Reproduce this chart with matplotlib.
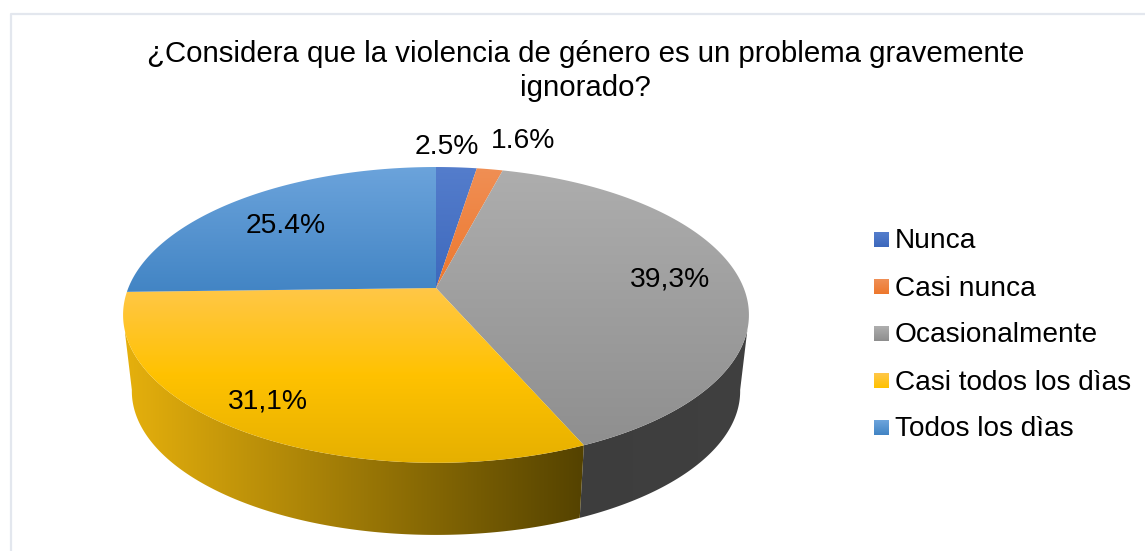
import numpy as np
import matplotlib
matplotlib.use("Agg")
import matplotlib.pyplot as plt
from matplotlib.colors import LinearSegmentedColormap
from matplotlib.patches import Polygon

plt.rcParams['font.family'] = ['Liberation Sans', 'DejaVu Sans']

title = "¿Considera que la violencia de género es un problema gravemente\nignorado?"
categories = ["Nunca", "Casi nunca", "Ocasionalmente", "Casi todos los dìas", "Todos los dìas"]
values = [2.5, 1.6, 39.3, 31.1, 25.4]
value_labels = ["2.5%", "1.6%", "39,3%", "31,1%", "25.4%"]

# colour ramps of the top face, from back to front of the pie
top_colors = [
    [(0.33, 0.49, 0.80), (0.24, 0.41, 0.74)],
    [(0.94, 0.56, 0.33), (0.93, 0.47, 0.18)],
    [(0.68, 0.68, 0.68), (0.56, 0.56, 0.56)],
    [(1.00, 0.78, 0.28), (1.00, 0.76, 0.00), (0.90, 0.69, 0.00)],
    [(0.42, 0.64, 0.86), (0.26, 0.52, 0.77)],
]
side_colors = [
    [(0.20, 0.33, 0.60), (0.15, 0.25, 0.45)],
    [(0.70, 0.35, 0.13), (0.55, 0.27, 0.10)],
    [(0.24, 0.24, 0.24), (0.25, 0.25, 0.25)],
    [(0.90, 0.69, 0.05), (0.33, 0.26, 0.00)],
    [(0.20, 0.40, 0.60), (0.20, 0.40, 0.60)],
]
legend_colors = [c[:2] for c in top_colors]
label_pos = [(447, 147), (523, 141), (670, 280), (268, 401), (286, 226)]


# perspective projection of the unit disc on the image
def project(theta, cy, scale, k=0.182, rx=307.7, ry=143):
    u = np.sin(theta)
    v = np.cos(theta)
    d = 1 + k * v
    return np.column_stack((436 + scale * rx * u / d, cy - scale * ry * v / d))


def fill_gradient(ax, pts, colors, horizontal, zorder):
    cmap = LinearSegmentedColormap.from_list("ramp", colors)
    x0, x1 = pts[:, 0].min(), pts[:, 0].max()
    y0, y1 = pts[:, 1].min(), pts[:, 1].max()
    grad = np.linspace(0, 1, 256)
    grad = grad.reshape(1, -1) if horizontal else grad.reshape(-1, 1)
    im = ax.imshow(grad, cmap=cmap, extent=(x0, x1, y1, y0), aspect="auto",
                   zorder=zorder, interpolation="bilinear")
    im.set_clip_path(Polygon(pts, closed=True, transform=ax.transData))


fig = plt.figure(figsize=(11.45, 5.51), dpi=100)
ax = fig.add_axes([0, 0, 1, 1])

edges = np.radians(np.cumsum([0] + values) / sum(values) * 360)

# only the front of the rim is visible, the limits differ a bit between top and bottom rim
top_lim = np.radians([106, 254])
bottom_lim = np.radians([100, 260])

for i in range(len(values)):
    if edges[i + 1] <= top_lim[0] or edges[i] >= top_lim[1]:
        continue
    th_top = np.linspace(max(edges[i], top_lim[0]), min(edges[i + 1], top_lim[1]), 200)
    th_bot = np.linspace(max(edges[i], bottom_lim[0]), min(edges[i + 1], bottom_lim[1]), 200)
    top = project(th_top, 288, 1)
    bottom = project(th_bot, 365, 0.972)
    fill_gradient(ax, np.vstack((top, bottom[::-1])), side_colors[i], True, 2)
for i in range(len(values)):
    th = np.linspace(edges[i], edges[i + 1], 200)
    top = project(th, 288, 1)
    wedge = np.vstack(([[436, 288]], top))
    fill_gradient(ax, wedge, top_colors[i], False, 3)

ax.axis("off")

# chart frame
ax.plot([11, 11, 1145], [551, 14, 14], color="#e3e7ee", lw=1.6, zorder=1)

ax.text(585.5, 71, title, ha="center", va="center", fontsize=21.2, linespacing=1.25, color="black")

for lab, (x, y) in zip(value_labels, label_pos):
    ax.text(x, y, lab, ha="center", va="center", fontsize=20.3, color="black", zorder=5)

legend_y = [240, 287, 334, 381, 428]
for name, cols, y in zip(categories, legend_colors, legend_y):
    cmap = LinearSegmentedColormap.from_list("ramp", cols)
    ax.imshow(np.linspace(0, 1, 16).reshape(-1, 1), cmap=cmap, extent=(874, 889, y + 7, y - 8),
              aspect="auto", zorder=3)
    ax.text(895, y + 1.5, name, ha="left", va="center", fontsize=20.2, color="black")

ax.set_xlim(0, 1145)
ax.set_ylim(551, 0)

fig.savefig("out.png", dpi=100)
